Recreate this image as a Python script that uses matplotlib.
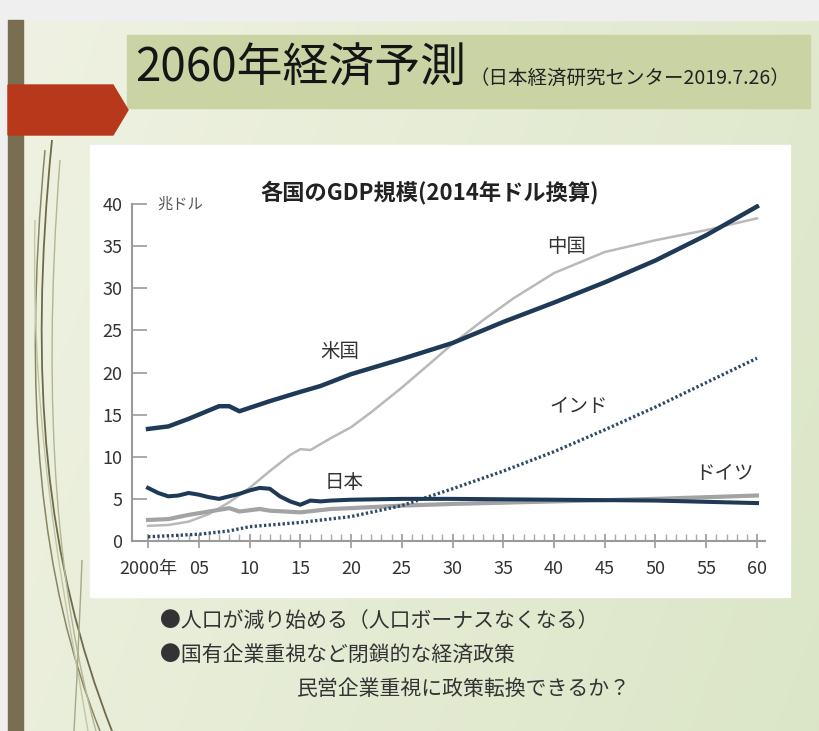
import numpy as np
import matplotlib.pyplot as plt
from matplotlib.patches import Rectangle, Polygon, PathPatch
from matplotlib.path import Path

plt.rcParams['font.family'] = ['Noto Sans CJK JP', 'DejaVu Sans']

# --- data (兆ドル, 2014年ドル換算) ---
us_years = [2000, 2002, 2004, 2005, 2007, 2008, 2009, 2010, 2012, 2015, 2017, 2020,
            2025, 2030, 2035, 2040, 2045, 2050, 2055, 2060]
us_gdp = [13.3, 13.6, 14.5, 15.0, 16.0, 16.0, 15.4, 15.8, 16.6, 17.7, 18.4, 19.8,
          21.6, 23.5, 26.0, 28.3, 30.7, 33.3, 36.3, 39.7]

cn_years = [2000, 2002, 2004, 2006, 2008, 2010, 2012, 2014, 2015, 2016, 2017, 2018,
            2020, 2022, 2025, 2028, 2030, 2033, 2036, 2040, 2045, 2050, 2055, 2060]
cn_gdp = [1.8, 1.9, 2.3, 3.2, 4.6, 6.3, 8.3, 10.2, 10.9, 10.8, 11.5, 12.2,
          13.5, 15.3, 18.2, 21.3, 23.4, 26.2, 28.8, 31.8, 34.3, 35.7, 36.9, 38.3]

in_years = [2000, 2005, 2008, 2010, 2015, 2020, 2025, 2030, 2035, 2040, 2045, 2050, 2055, 2060]
in_gdp = [0.5, 0.8, 1.2, 1.7, 2.2, 2.9, 4.2, 6.2, 8.3, 10.6, 13.2, 15.9, 18.8, 21.7]

jp_years = [2000, 2001, 2002, 2003, 2004, 2005, 2006, 2007, 2008, 2009, 2010, 2011, 2012,
            2013, 2014, 2015, 2016, 2017, 2018, 2020, 2025, 2030, 2040, 2050, 2060]
jp_gdp = [6.3, 5.7, 5.3, 5.4, 5.7, 5.5, 5.2, 5.0, 5.3, 5.6, 6.0, 6.3, 6.2,
          5.3, 4.7, 4.3, 4.8, 4.7, 4.8, 4.9, 5.0, 5.0, 4.9, 4.8, 4.5]

de_years = [2000, 2002, 2004, 2006, 2008, 2009, 2011, 2012, 2015, 2018, 2020, 2025,
            2030, 2040, 2050, 2060]
de_gdp = [2.5, 2.6, 3.1, 3.5, 3.9, 3.5, 3.8, 3.6, 3.4, 3.8, 3.9, 4.2,
          4.4, 4.7, 5.0, 5.4]

x_ticks = [2000, 2005, 2010, 2015, 2020, 2025, 2030, 2035, 2040, 2045, 2050, 2055, 2060]
x_labels = ['2000年', '05', '10', '15', '20', '25', '30', '35', '40', '45', '50', '55', '60']
y_ticks = [0, 5, 10, 15, 20, 25, 30, 35, 40]

W, H = 820, 731
fig = plt.figure(figsize=(W / 100, H / 100), dpi=100)

# slide background (pixel coordinates)
bg = fig.add_axes([0, 0, 1, 1])
bg.set_xlim(0, W)
bg.set_ylim(H, 0)
bg.axis('off')
gx = np.linspace(0, 1, 200)
gy = np.linspace(0, 1, 200)
GX, GY = np.meshgrid(gx, gy)
t = np.clip(0.75 * GX + 0.25 * GY, 0, 1)[..., None]
c0 = np.array([0.94, 0.95, 0.89])
c1 = np.array([0.86, 0.90, 0.78])
bg.imshow(c0 * (1 - t) + c1 * t, extent=[0, W, H, 0], aspect='auto', zorder=0)
bg.add_patch(Rectangle((0, 0), W, 20, color='#efefef', zorder=1))
bg.add_patch(Rectangle((0, 0), 8, H, color='#efefef', zorder=1))
bg.add_patch(Rectangle((8, 20), 15, H - 20, color='#7a6e52', zorder=2))

# decorative curves
curves = [
    ([(52, 140), (28, 380), (45, 560), (112, H)], '#6f6a4a', 1.3),
    ([(45, 150), (22, 400), (40, 580), (100, H)], '#8a8562', 1.1),
    ([(60, 160), (40, 420), (60, 600), (96, H)], '#b3b594', 1.0),
    ([(35, 220), (30, 450), (70, 620), (88, H)], '#c2c6a6', 1.0),
    ([(82, 560), (80, 610), (78, 660), (74, H)], '#a7a887', 1.0),
]
for verts, col, lw in curves:
    p = Path(verts, [Path.MOVETO, Path.CURVE4, Path.CURVE4, Path.CURVE4])
    bg.add_patch(PathPatch(p, fill=False, edgecolor=col, lw=lw, zorder=2))

# title box and red arrow
bg.add_patch(Rectangle((127, 35), 683, 73, color='#c9d3a4', zorder=3))
bg.add_patch(Polygon([(8, 85), (113, 85), (128, 110), (113, 135), (8, 135)],
                     closed=True, color='#b8381c', zorder=3))
bg.text(135, 68, '2060年経済予測', fontsize=33, color='#151515', va='center', ha='left', zorder=4)
bg.text(470, 78, '（日本経済研究センター2019.7.26）', fontsize=14, color='#222222',
        va='center', ha='left', zorder=4)

# white chart panel
bg.add_patch(Rectangle((90, 145), 700, 452, color='white', zorder=3))

# bullet text
bg.text(160, 621, '●人口が減り始める（人口ボーナスなくなる）', fontsize=15, color='#333333', va='center', zorder=4)
bg.text(160, 655, '●国有企業重視など閉鎖的な経済政策', fontsize=15, color='#333333', va='center', zorder=4)
bg.text(297, 689, '民営企業重視に政策転換できるか？', fontsize=15, color='#333333', va='center', zorder=4)

# chart axes
ax = fig.add_axes([132 / W, 1 - 541 / H, (765 - 132) / W, (541 - 204) / H])
ax.set_facecolor('none')
ax.set_xlim(1998.42, 2060.79)
ax.set_ylim(0, 40)

navy = '#1f3a57'
ax.plot(cn_years, cn_gdp, color='#b9b9b9', lw=1.8, zorder=2)
ax.plot(de_years, de_gdp, color='#a3a3a3', lw=3.0, zorder=2)
ax.plot(in_years, in_gdp, color='#2f4a66', lw=2.4, ls=(0, (0.7, 0.7)), zorder=3)
ax.plot(jp_years, jp_gdp, color=navy, lw=2.9, zorder=4)
ax.plot(us_years, us_gdp, color=navy, lw=3.2, zorder=4)

for s in ['top', 'right']:
    ax.spines[s].set_visible(False)
for s in ['left', 'bottom']:
    ax.spines[s].set_color('#9a9a9a')
    ax.spines[s].set_linewidth(1.5)

ax.set_yticks(y_ticks)
ax.set_yticklabels([str(v) for v in y_ticks])
ax.set_xticks(x_ticks)
ax.set_xticklabels(x_labels)
ax.set_xticks(range(2000, 2061), minor=True)
ax.tick_params(axis='y', direction='in', length=11, width=1.2, color='#9a9a9a',
               labelsize=13, labelcolor='#333333', pad=7)
ax.tick_params(axis='x', which='major', direction='inout', length=10, width=1.2,
               color='#9a9a9a', labelsize=13, labelcolor='#333333', pad=9)
ax.tick_params(axis='x', which='minor', direction='in', length=5, width=1.0, color='#aaaaaa')

ax.text(0.04, 40, '兆ドル', transform=ax.get_yaxis_transform(), fontsize=11,
        color='#555555', va='center', ha='left')
ax.text(0.47, 1.035, '各国のGDP規模(2014年ドル換算)', transform=ax.transAxes, fontsize=16,
        fontweight='bold', color='#222222', ha='center', va='center')

label_kw = dict(fontsize=14, color='#333333', ha='center', va='center')
ax.text(2041.2, 35.0, '中国', **label_kw)
ax.text(2018.9, 22.5, '米国', **label_kw)
ax.text(2042.4, 16.0, 'インド', **label_kw)
ax.text(2019.3, 6.9, '日本', **label_kw)
ax.text(2056.8, 8.0, 'ドイツ', **label_kw)

fig.savefig('out.png', dpi=100)
